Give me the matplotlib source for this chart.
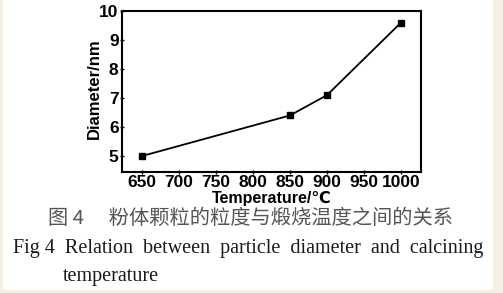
#!/usr/bin/env python3

import numpy as np
import matplotlib
matplotlib.use( 'Agg' )
import matplotlib.pyplot as plt
from matplotlib.patches import Rectangle

temperature = [ 650, 850, 900, 1000 ]
diameter    = [ 5.0, 6.4, 7.1, 9.6 ]

xTicks = [ 650, 700, 750, 800, 850, 900, 950, 1000 ]
yTicks = [ 5, 6, 7, 8, 9, 10 ]

capCN  = '图 4\u3000 粉体颗粒的粒度与煅烧温度之间的关系'
capEN1 = 'Fig 4  Relation  between  particle  diameter  and  calcining'
capEN2 = 'temperature'

fig = plt.figure( figsize = ( 5.03, 2.93 ), dpi = 100, facecolor = '#f7efe6' )
fig.patches.append( Rectangle( ( 3 / 503, 3 / 293 ), 490 / 503, 290 / 293,
                               transform = fig.transFigure,
                               facecolor = 'white', edgecolor = 'none',
                               zorder = -10 ) )

ax = fig.add_axes( [ 122 / 503, 1 - 172 / 293, 299 / 503, 161 / 293 ] )
ax.plot( temperature, diameter, color = 'black', lw = 1.3,
         marker = 's', ms = 4.5, mfc = 'black', mec = 'black' )

ax.set_xlim( 623, 1027 )
ax.set_ylim( 4.45, 10.0 )
ax.set_xticks( xTicks )
ax.set_yticks( yTicks )

tickFont = dict( family = 'Liberation Sans', weight = 'bold', size = 12.5 )
ax.set_xticklabels( [ str( v ) for v in xTicks ], fontdict = tickFont )
ax.set_yticklabels( [ str( v ) for v in yTicks ], fontdict = tickFont )
ax.tick_params( direction = 'inout', length = 3, width = 1, pad = 1 )

for s in ax.spines.values():
    s.set_linewidth( 1.5 )

ax.set_xlabel( 'Temperature/\u2103', family = [ 'Liberation Sans', 'DejaVu Sans' ],
               weight = 'bold', size = 11.5 )
ax.set_ylabel( 'Diameter/nm', family = 'Liberation Sans',
               weight = 'bold', size = 12 )
ax.xaxis.set_label_coords( 0.5, -0.12 )
ax.yaxis.set_label_coords( -0.068, 0.52 )

fig.text( 250 / 503, 1 - 218 / 293, capCN, ha = 'center', va = 'center',
          family = [ 'Noto Sans CJK SC', 'DejaVu Sans' ], weight = 'light',
          size = 14.6, color = '#555555' )
fig.text( 13 / 503, 1 - 248 / 293, capEN1, ha = 'left', va = 'center',
          family = 'Liberation Serif', size = 14.5, color = '#1a1a1a' )
fig.text( 63 / 503, 1 - 277 / 293, capEN2, ha = 'left', va = 'center',
          family = 'Liberation Serif', size = 14.5, color = '#1a1a1a' )

plt.savefig( 'out.png', dpi = 100, facecolor = fig.get_facecolor() )
plt.close()
